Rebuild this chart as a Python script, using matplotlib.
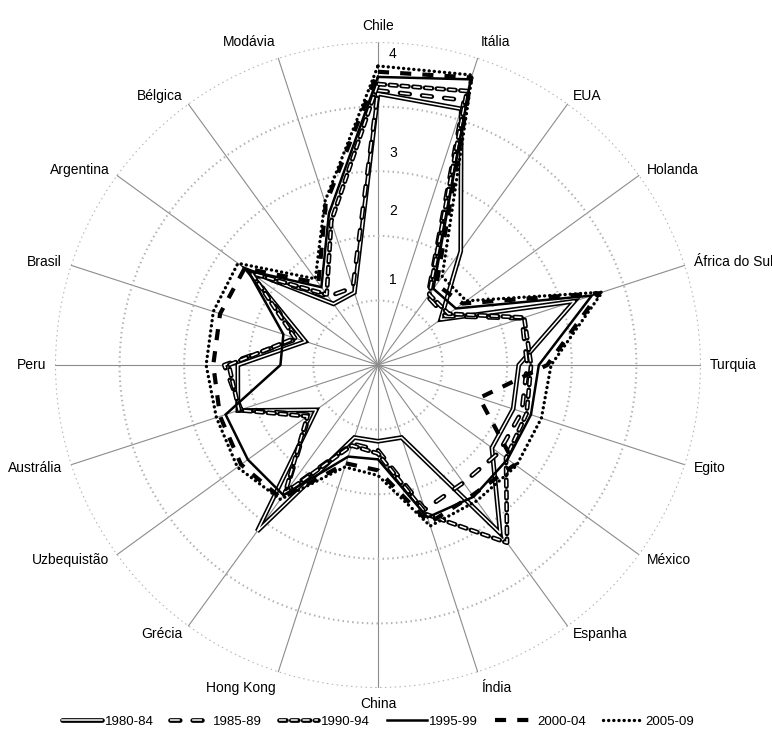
import matplotlib
matplotlib.use('Agg')
import matplotlib.pyplot as plt
import matplotlib.patheffects as pe
from matplotlib.transforms import offset_copy
import numpy as np

plt.rcParams['font.family'] = ['Liberation Sans', 'DejaVu Sans']
plt.rcParams['lines.scale_dashes'] = False

paises = ['Chile', 'Itália', 'EUA', 'Holanda', 'África do Sul', 'Turquia', 'Egito',
          'México', 'Espanha', 'Índia', 'China', 'Hong Kong', 'Grécia', 'Uzbequistão',
          'Austrália', 'Peru', 'Brasil', 'Argentina', 'Bélgica', 'Modávia']

periodos = ['1980-84', '1985-89', '1990-94', '1995-99', '2000-04', '2005-09']

# valores (escala dos aneis, 0 a 5)
v1980 = [4.20, 4.17, 2.18, 1.20, 3.20, 2.18, 2.20, 2.18, 3.22, 1.18,
         1.18, 1.18, 3.18, 1.18, 2.28, 2.17, 1.18, 2.49, 1.17, 1.18]
v1985 = [4.25, 4.31, 1.31, 1.29, 2.34, 2.31, 2.34, 2.31, 2.25, 2.35,
         1.32, 1.28, 2.42, 1.31, 2.23, 2.38, 1.31, 2.38, 1.31, 1.26]
v1990 = [4.35, 4.46, 1.35, 1.35, 2.38, 2.37, 2.42, 2.45, 3.40, 2.43,
         1.37, 1.31, 2.45, 1.35, 2.26, 2.31, 1.35, 2.42, 1.35, 2.34]
v1995 = [4.46, 4.65, 1.46, 1.49, 3.48, 2.49, 2.49, 2.48, 2.52, 2.48,
         1.46, 1.49, 2.49, 2.49, 2.48, 1.51, 1.54, 2.49, 1.49, 2.46]
v2000 = [4.54, 4.68, 1.54, 1.62, 3.60, 2.62, 1.65, 2.62, 2.49, 2.57,
         1.63, 1.60, 2.55, 2.62, 2.57, 2.55, 2.57, 2.55, 1.57, 2.62]
v2005 = [4.63, 4.72, 1.69, 1.69, 3.65, 2.68, 2.66, 2.65, 2.60, 2.62,
         1.71, 1.66, 2.57, 2.69, 2.63, 2.66, 2.68, 2.68, 1.65, 2.66]

rotulos_r = ['1', '2', '3', '4']
pos_r = [1.31, 2.38, 3.28, 4.81]

series = [v1980, v1985, v1990, v1995, v2000, v2005]

n = len(paises)
ang = np.arange(n) * 2 * np.pi / n
ang_f = np.append(ang, ang[0])

fig = plt.figure(figsize=(7.72, 7.35), dpi=100)
ax = fig.add_axes([0.0712, 0.0639, 0.8368, 0.8789], projection='polar')
ax.set_theta_zero_location('N')
ax.set_theta_direction(-1)
ax.set_ylim(0, 5)
ax.set_yticks([1, 2, 3, 4, 5])
ax.set_yticklabels([])
ax.set_xticks(ang)
ax.set_xticklabels([])
ax.spines['polar'].set_visible(False)
ax.yaxis.grid(True, color='#b4b4b4', linewidth=1.5, linestyle=(0, (1.1, 2.4)))
ax.xaxis.grid(True, color='#8c8c8c', linewidth=0.8, linestyle='-')
ax.tick_params(length=0)

# estilos de cada periodo
dupla = [pe.Stroke(linewidth=3.4, foreground='black', capstyle='round'), pe.Normal()]
estilos = [
    dict(color='white', linewidth=1.1, path_effects=dupla),
    dict(color='white', linewidth=1.1, linestyle=(0, (7, 9)), path_effects=dupla),
    dict(color='white', linewidth=1.1, linestyle=(0, (5, 3.5)), path_effects=dupla),
    dict(color='black', linewidth=1.8),
    dict(color='black', linewidth=3.0, linestyle=(0, (8, 8))),
    dict(color='black', linewidth=2.4, linestyle=(0, (0.1, 3.6)), dash_capstyle='round'),
]

for vals, nome, st in zip(series, periodos, estilos):
    ax.plot(ang_f, vals + vals[:1], label=nome, solid_joinstyle='miter', **st)

# rotulos do eixo radial
for t, r in zip(rotulos_r, pos_r):
    ax.text(0, r, t, fontsize=10, ha='left', va='center',
            transform=offset_copy(ax.transData, fig, x=11, y=0, units='dots'))

# nomes dos paises
for a, nome in zip(ang, paises):
    dx = 9 * np.sin(a)
    dy = 9 * np.cos(a)
    if dx > 0.5:
        ha = 'left'
    elif dx < -0.5:
        ha = 'right'
    else:
        ha = 'center'
    if dy > 8.5:
        va = 'bottom'
    elif dy < -8.5:
        va = 'top'
    else:
        va = 'center'
    ax.text(a, 5, nome, fontsize=10, ha=ha, va=va,
            transform=offset_copy(ax.transData, fig, x=dx, y=dy, units='dots'))

fig.legend(loc='center', bbox_to_anchor=(0.49, 0.018), ncol=6, frameon=False,
           fontsize=9.5, handlelength=3.0, handletextpad=0.2, columnspacing=1.3)

fig.savefig('out.png', dpi=100)
